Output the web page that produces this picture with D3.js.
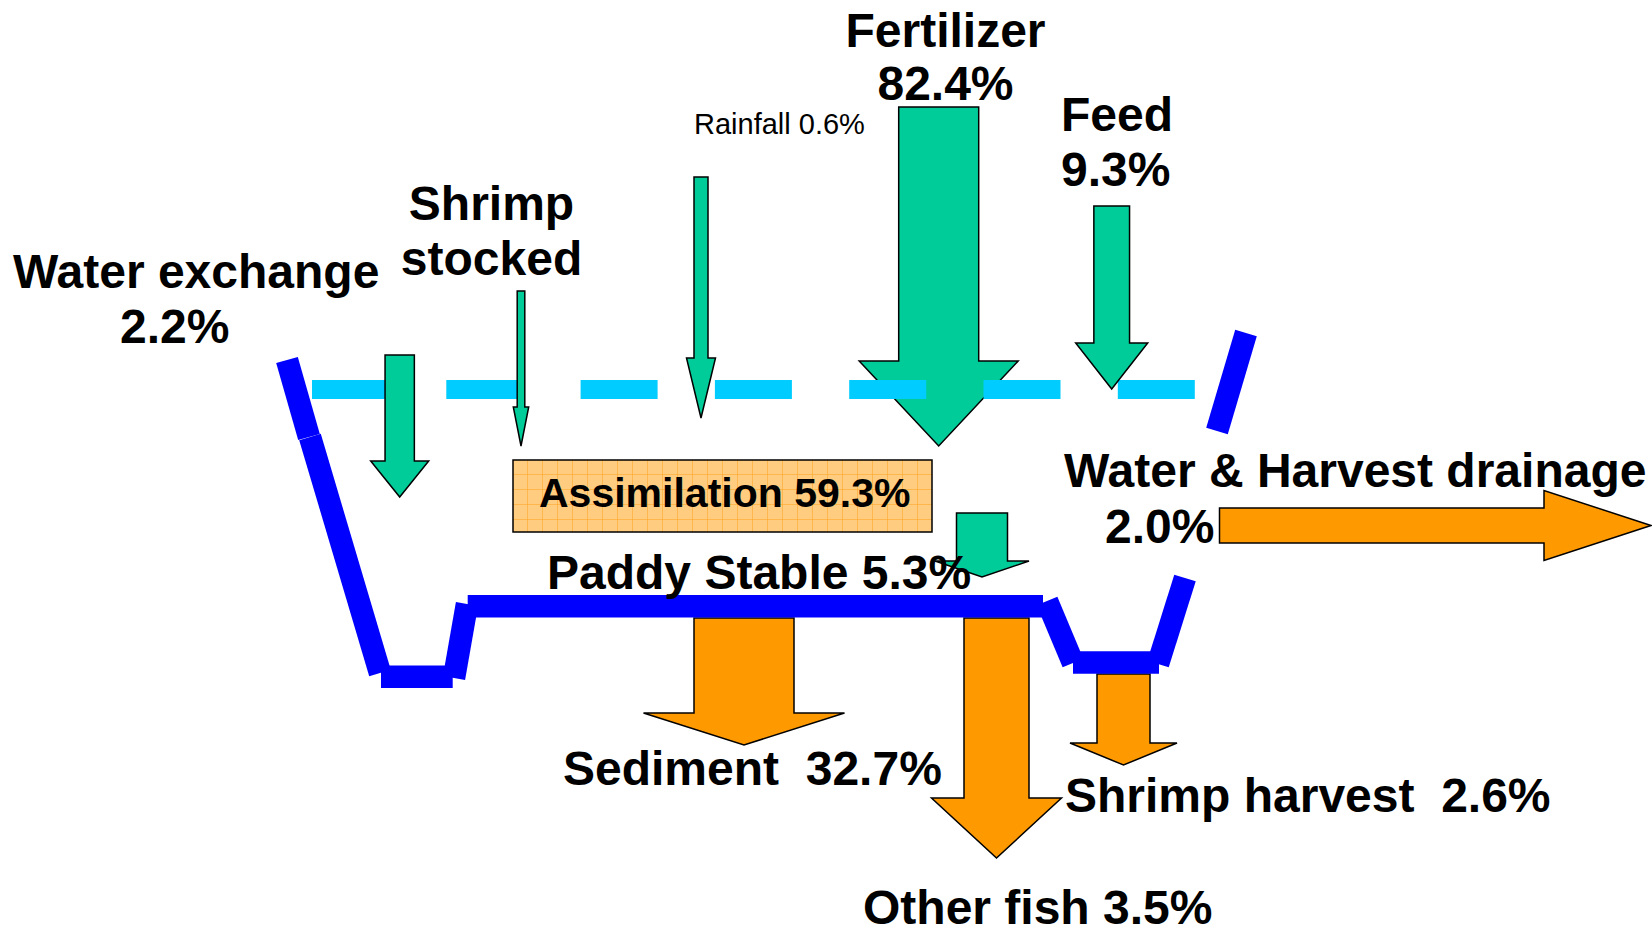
<!DOCTYPE html>
<html>
<head>
<meta charset="utf-8">
<script src="https://cdn.jsdelivr.net/npm/d3@7"></script>
<style>
  body { margin: 0; background: #fff; }
  text { font-family: "Liberation Sans", Arial, sans-serif; white-space: pre; }
</style>
</head>
<body>
<script>
// nutrient budget of the pond, % of total input
const inputNames = ["Water exchange", "Shrimp stocked", "Rainfall", "Fertilizer", "Feed"];
const inputValues = [2.2, null, 0.6, 82.4, 9.3];
const innerNames = ["Assimilation", "Paddy Stable"];
const innerValues = [59.3, 5.3];
const outputNames = ["Sediment", "Other fish", "Shrimp harvest", "Water & Harvest drainage"];
const outputValues = [32.7, 3.5, 2.6, 2.0];

const width = 1652, height = 933;

const svg = d3.select('body')
    .append('svg')
    .attr('width', width)
    .attr('height', height);

// drawing space is the slide, in px of the original picture
const x = d3.scaleLinear().domain([0, 1652]).range([0, width]);
const y = d3.scaleLinear().domain([0, 933]).range([0, height]);

const green = '#00cc99', orange = '#ff9900', blue = '#0000ff', cyan = '#00ccff';

// arrow geometry: centre, start, shaft width, head start, head width, tip
const arrowLayout = {
    'Water exchange': {c: 399.7, a: 355, sw: 29.3, h: 461, hw: 58, t: 497, fill: green},
    'Shrimp stocked': {c: 521, a: 291, sw: 7.6, h: 407, hw: 15.4, t: 446, fill: green},
    'Rainfall':       {c: 701, a: 177, sw: 14, h: 358, hw: 29, t: 418, fill: green},
    'Fertilizer':     {c: 938.7, a: 107, sw: 80, h: 361, hw: 159, t: 446, fill: green},
    'Feed':           {c: 1111.7, a: 206, sw: 35.7, h: 343, hw: 72, t: 389, fill: green},
    'Paddy Stable':   {c: 982, a: 513, sw: 51, h: 561, hw: 94, t: 577, fill: green},
    'Sediment':       {c: 744, a: 618, sw: 100, h: 713, hw: 201, t: 745, fill: orange},
    'Other fish':     {c: 996.5, a: 618, sw: 65, h: 798, hw: 130, t: 858, fill: orange},
    'Shrimp harvest': {c: 1123.5, a: 674, sw: 53, h: 743, hw: 107, t: 765, fill: orange},
    'Water & Harvest drainage': {c: 525.5, a: 1219.5, sw: 35, h: 1544, hw: 70, t: 1651, fill: orange, right: true}
};

function arrowPath(g) {
    let pts = [[g.c - g.sw / 2, g.a], [g.c + g.sw / 2, g.a], [g.c + g.sw / 2, g.h],
               [g.c + g.hw / 2, g.h], [g.c, g.t], [g.c - g.hw / 2, g.h], [g.c - g.sw / 2, g.h]];
    if (g.right) pts = pts.map(p => [p[1], p[0]]);
    return 'M' + pts.map(p => x(p[0]) + ',' + y(p[1])).join('L') + 'Z';
}

function drawArrows(names) {
    svg.append('g')
        .selectAll('path')
        .data(names)
        .join('path')
        .attr('d', d => arrowPath(arrowLayout[d]))
        .attr('fill', d => arrowLayout[d].fill)
        .attr('stroke', '#000')
        .attr('stroke-width', 1.5)
        .attr('stroke-linejoin', 'miter');
}

// assimilation box with its grid paper fill
const defs = svg.append('defs');
const pat = defs.append('pattern')
    .attr('id', 'grid')
    .attr('patternUnits', 'userSpaceOnUse')
    .attr('x', x(513)).attr('y', y(460))
    .attr('width', 15).attr('height', 15);
pat.append('rect').attr('width', 15).attr('height', 15).attr('fill', '#ffcc80');
pat.append('path')
    .attr('d', 'M15,0V15M0,15H15')
    .attr('stroke', '#ffa31a')
    .attr('stroke-width', 1)
    .attr('fill', 'none');

svg.append('rect')
    .attr('x', x(513)).attr('y', y(460))
    .attr('width', x(932) - x(513)).attr('height', y(532) - y(460))
    .attr('fill', 'url(#grid)')
    .attr('stroke', '#000')
    .attr('stroke-width', 1.5);

// outflows sit under the pond outline
drawArrows(outputNames);
drawArrows(['Fertilizer']);

// water surface
svg.append('line')
    .attr('x1', x(312)).attr('x2', x(1196))
    .attr('y1', y(389.5)).attr('y2', y(389.5))
    .attr('stroke', cyan)
    .attr('stroke-width', 19)
    .attr('stroke-dasharray', '77 57.3');

drawArrows(['Water exchange', 'Shrimp stocked', 'Rainfall', 'Feed', 'Paddy Stable']);

// pond outline, drawn as separate pieces like the slide
const pond = [
    [[287, 360], [309, 437]],
    [[310, 437], [380, 673]],
    [[381, 676.7], [452.7, 676.7]],
    [[454, 678], [467, 604]],
    [[467.7, 606.3], [1043, 606.3]],
    [[1047, 601], [1073, 663]],
    [[1073, 662.5], [1159, 662.5]],
    [[1158, 664], [1185, 578]],
    [[1217, 431], [1246, 333]]
];
const line = d3.line().x(d => x(d[0])).y(d => y(d[1]));
svg.append('g')
    .selectAll('path')
    .data(pond)
    .join('path')
    .attr('d', line)
    .attr('stroke', blue)
    .attr('stroke-width', 22.5)
    .attr('stroke-linecap', 'butt')
    .attr('fill', 'none');

// labels
const pct = v => v.toFixed(1) + '%';
const valueOf = n => {
    let i = inputNames.indexOf(n);
    if (i >= 0) return inputValues[i];
    i = innerNames.indexOf(n);
    if (i >= 0) return innerValues[i];
    return outputValues[outputNames.indexOf(n)];
};

// kind: 'two' = name over value, 'one' = name value, 'gap' = name  value, 'words' = one word per line
const labelLayout = [
    {name: 'Water exchange', kind: 'two', x: [13, 120], y: [288, 343], anchor: 'start', size: 48},
    {name: 'Shrimp stocked', kind: 'words', x: [491.5, 491.5], y: [220, 275], anchor: 'middle', size: 48},
    {name: 'Rainfall', kind: 'one', x: [694], y: [134], anchor: 'start', size: 29, weight: 'normal'},
    {name: 'Fertilizer', kind: 'two', x: [945.5, 945.5], y: [47, 100], anchor: 'middle', size: 48},
    {name: 'Feed', kind: 'two', x: [1061, 1061], y: [131, 186], anchor: 'start', size: 48},
    {name: 'Water & Harvest drainage', kind: 'two', x: [1064, 1105], y: [487, 543], anchor: 'start', size: 48},
    {name: 'Assimilation', kind: 'one', x: [539], y: [507], anchor: 'start', size: 41},
    {name: 'Paddy Stable', kind: 'one', x: [547], y: [589], anchor: 'start', size: 48},
    {name: 'Sediment', kind: 'gap', x: [563], y: [785], anchor: 'start', size: 48},
    {name: 'Other fish', kind: 'one', x: [863], y: [924], anchor: 'start', size: 48},
    {name: 'Shrimp harvest', kind: 'gap', x: [1065], y: [812], anchor: 'start', size: 48}
];

function labelLines(l) {
    const v = valueOf(l.name);
    if (l.kind === 'two') return [l.name, pct(v)];
    if (l.kind === 'words') return l.name.split(' ');
    if (l.kind === 'gap') return [l.name + '  ' + pct(v)];
    return [l.name + ' ' + pct(v)];
}

const rows = labelLayout.flatMap(l => labelLines(l).map((t, i) => ({
    text: t, x: l.x[i], y: l.y[i], anchor: l.anchor, size: l.size, weight: l.weight || 'bold'
})));

svg.append('g')
    .selectAll('text')
    .data(rows)
    .join('text')
    .attr('x', d => x(d.x))
    .attr('y', d => y(d.y))
    .attr('text-anchor', d => d.anchor)
    .attr('font-size', d => d.size)
    .attr('font-weight', d => d.weight)
    .attr('xml:space', 'preserve')
    .attr('fill', '#000')
    .text(d => d.text);
</script>
</body>
</html>
